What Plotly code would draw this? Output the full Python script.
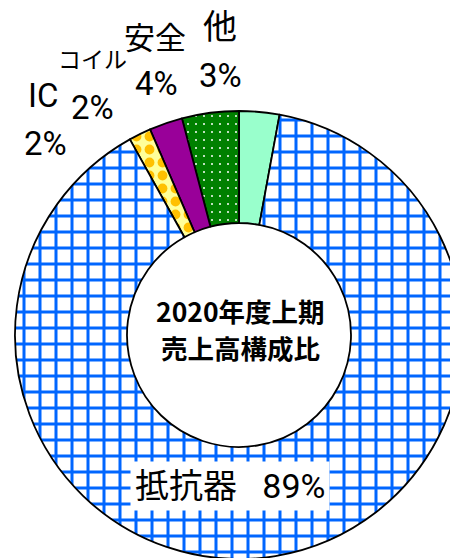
import plotly.graph_objects as go

# ---- data ----
labels = ["他", "安全", "コイル", "IC", "抵抗器"]
values = [2.9, 4.1, 2.4, 1.6, 89.0]
center_lines = ["2020年度上期", "売上高構成比"]

# ---- styles ----
bg_colors = ["#99FFCC", "#008000", "#990099", "#FFFF99", "#FFFFFF"]
fg_colors = ["#99FFCC", "#FFFFFF", "#990099", "#FFC000", "#0066FF"]
shapes = ["", ".", "", ".", "+"]
psizes = [8, 8, 8, 13, 16]
solid = [0.1, 0.05, 0.1, 0.45, 0.34]

W, H = 463, 559
total = sum(values)
pcts = [f"{round(v / total * 100)}%" for v in values]

fig = go.Figure(go.Pie(
    labels=labels, values=values, sort=False, direction="counterclockwise",
    rotation=0, hole=0.5, textinfo="none", hoverinfo="skip",
    marker=dict(colors=bg_colors, line=dict(color="black", width=1.8),
                pattern=dict(shape=shapes, fgcolor=fg_colors, bgcolor=bg_colors,
                             size=psizes, solidity=solid)),
    domain=dict(x=[15 / W, 1], y=[0, 1 - 111 / H]),
    showlegend=False,
))

LF = "Roboto, Noto Sans CJK JP, sans-serif"

def px(x, y):
    return x / W, 1 - y / H

# label positions (pixel centres) for name and percent lines
pos = {
    "他": ((220, 27), (220, 75), 34),
    "安全": ((155, 38), (156, 84), 31),
    "コイル": ((92, 61), (92, 108), 23),
    "IC": ((43, 95), (45, 143), 33),
}
ann = []
for lab, pct in zip(labels, pcts):
    if lab in pos:
        (nx, ny), (qx, qy), fs = pos[lab]
        x, y = px(nx, ny)
        ann.append(dict(x=x, y=y, text=lab, showarrow=False, xref="paper", yref="paper",
                        xanchor="center", yanchor="middle",
                        font=dict(family=LF, size=fs, color="black")))
        x, y = px(qx, qy)
        ann.append(dict(x=x, y=y, text=pct, showarrow=False, xref="paper", yref="paper",
                        xanchor="center", yanchor="middle",
                        font=dict(family=LF, size=33, color="black")))
    else:
        x, y = px(230, 486)
        ann.append(dict(x=x, y=y, text=f"{lab}\u00a0\u00a0\u00a0{pct}", showarrow=False,
                        xref="paper", yref="paper", xanchor="center", yanchor="middle",
                        bgcolor="white", borderpad=4,
                        font=dict(family=LF, size=34, color="black")))

for i, (line, cy) in enumerate(zip(center_lines, [310, 347])):
    x, y = px(240, cy)
    ann.append(dict(x=x, y=y, text=f"<b>{line}</b>", showarrow=False, xref="paper",
                    yref="paper", xanchor="center", yanchor="middle",
                    font=dict(family="Noto Sans CJK JP", size=26.5, color="black")))

fig.update_layout(width=W, height=H, margin=dict(l=0, r=0, t=0, b=0),
                  paper_bgcolor="white", plot_bgcolor="white", annotations=ann)

fig.write_html("out.html", config={"displayModeBar": False},
               post_script="document.body.style.margin='0';document.body.style.overflow='hidden';document.documentElement.style.overflow='hidden';")
